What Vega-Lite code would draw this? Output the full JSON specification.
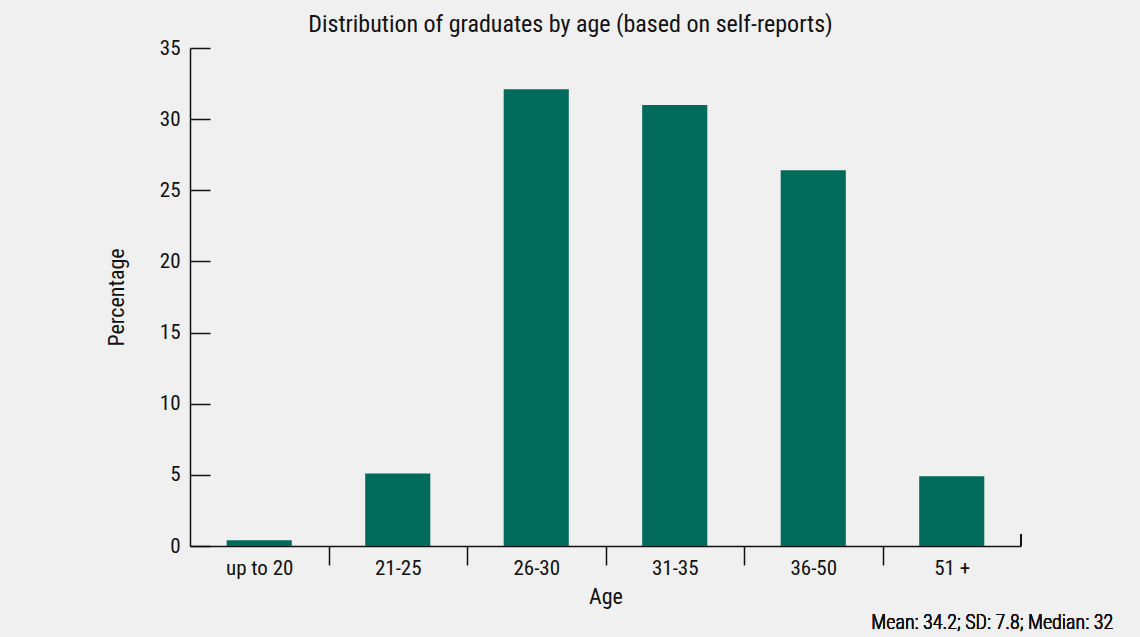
{
  "$schema": "https://vega.github.io/schema/vega-lite/v6.json",
  "autosize": {"type": "none"},
  "width": 831,
  "height": 498,
  "padding": {"left": 190, "top": 48, "right": 119, "bottom": 91},
  "background": "#f0f0f0",
  "title": {
    "text": "Distribution of graduates by age (based on self-reports)",
    "font": "Roboto Condensed",
    "fontSize": 24,
    "fontWeight": "normal",
    "color": "#111111",
    "anchor": "middle",
    "dx": -35,
    "offset": 0
  },
  "config": {
    "view": {"stroke": null},
    "font": "Roboto Condensed"
  },
  "data": {
    "values": [
      {"Age": "up to 20", "Percentage": 0.4},
      {"Age": "21-25", "Percentage": 5.1},
      {"Age": "26-30", "Percentage": 32.1},
      {"Age": "31-35", "Percentage": 31.0},
      {"Age": "36-50", "Percentage": 26.4},
      {"Age": "51 +", "Percentage": 4.9}
    ]
  },
  "layer": [
    {
      "mark": {"type": "bar", "color": "#006b5a"},
      "encoding": {
        "x": {
          "field": "Age",
          "type": "nominal",
          "sort": null,
          "scale": {"paddingInner": 0.53, "paddingOuter": 0.265},
          "axis": {
            "title": "Age",
            "titleFont": "Roboto Condensed",
            "titleFontSize": 22,
            "titleFontWeight": "normal",
            "titleColor": "#111111",
            "titlePadding": 8,
            "labelAngle": 0,
            "labelFont": "Roboto Condensed",
            "labelFontSize": 21,
            "labelColor": "#111111",
            "labelPadding": -8,
            "tickOffset": -69.25,
            "labelOffset": 69.25,
            "tickSize": 19,
            "tickColor": "#111111",
            "tickWidth": 1.5,
            "tickOpacity": {"condition": {"test": "datum.value === 'up to 20'", "value": 0}, "value": 1},
            "domainColor": "#111111",
            "domainWidth": 1.5
          }
        },
        "y": {
          "field": "Percentage",
          "type": "quantitative",
          "scale": {"domain": [0, 35], "nice": false},
          "axis": {
            "title": "Percentage",
            "titleFont": "Roboto Condensed",
            "titleFontSize": 22,
            "titleFontWeight": "normal",
            "titleColor": "#111111",
            "titlePadding": 31,
            "values": [0, 5, 10, 15, 20, 25, 30, 35],
            "grid": false,
            "labelFont": "Roboto Condensed",
            "labelFontSize": 21,
            "labelColor": "#111111",
            "labelPadding": 30,
            "tickSize": -20,
            "tickColor": "#111111",
            "tickWidth": 1.5,
            "domainColor": "#111111",
            "domainWidth": 1.5
          }
        }
      }
    },
    {
      "mark": {"type": "rule", "color": "#111111", "strokeWidth": 1.5},
      "encoding": {
        "x": {"datum": "51 +", "bandPosition": 1.566},
        "y": {"datum": 0},
        "y2": {"datum": 0.85}
      }
    },
    {
      "mark": {"type": "text", "align": "right", "baseline": "middle", "font": "Roboto Condensed", "fontWeight": 300, "fontSize": 20, "color": "#111111", "dx": 92, "dy": 77},
      "encoding": {
        "x": {"datum": "51 +", "bandPosition": 1.566},
        "y": {"datum": 0},
        "text": {"value": "Mean: 34.2; SD: 7.8; Median: 32"}
      }
    }
  ]
}
